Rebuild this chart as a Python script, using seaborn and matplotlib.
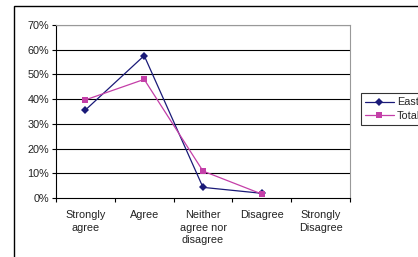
import numpy as np
import pandas as pd
import matplotlib
matplotlib.use("Agg")
import matplotlib.pyplot as plt
from matplotlib.patches import Rectangle
from matplotlib.lines import Line2D
from matplotlib.ticker import FuncFormatter, FixedLocator
import seaborn as sns

categories = ["Strongly\nagree", "Agree", "Neither\nagree nor\ndisagree", "Disagree", "Strongly\nDisagree"]
east = [35.6, 57.6, 4.3, 1.9, np.nan]
total = [39.7, 48.0, 10.9, 1.6, np.nan]
series_names = ["East", "Total"]
yticks = [0, 10, 20, 30, 40, 50, 60, 70]

sns.set_style("white")
plt.rcParams["font.family"] = ["Liberation Sans", "DejaVu Sans"]

W, H = 418, 257
fig = plt.figure(figsize=(W / 100, H / 100), dpi=100)
ax = fig.add_axes([56 / W, (H - 198) / H, 294 / W, 173 / H])

pos = list(range(len(categories)))
df = pd.DataFrame({
    "x": pos * 2,
    "value": east + total,
    "series": [series_names[0]] * len(pos) + [series_names[1]] * len(pos),
}).dropna()

palette = {"East": "#1a1a78", "Total": "#c43fa8"}
markers = {"East": "D", "Total": "s"}
sns.lineplot(data=df, x="x", y="value", hue="series", style="series",
             palette=palette, markers=markers, dashes=False, ax=ax,
             linewidth=0.9, markersize=4.5, markeredgewidth=0, legend=False)

ax.set_xlim(-0.5, len(categories) - 0.5)
ax.set_ylim(0, 70)
ax.set_xlabel("")
ax.set_ylabel("")
ax.set_yticks(yticks)
ax.yaxis.set_major_formatter(FuncFormatter(lambda v, p: f"{int(v)}%"))
ax.set_xticks(pos)
ax.set_xticklabels(categories, fontsize=7.8, color="#222222", linespacing=1.3)
ax.tick_params(axis="x", which="major", length=0, pad=9)
ax.xaxis.set_minor_locator(FixedLocator([p + 0.5 for p in pos[:-1]] + [-0.5, len(pos) - 0.5]))
ax.tick_params(axis="x", which="minor", length=3, width=0.8, color="black", direction="out", bottom=True)
ax.tick_params(axis="y", length=3, width=0.8, color="black", direction="out", left=True,
               labelsize=7.8, pad=2, labelcolor="#222222")

for y in yticks[1:]:
    ax.axhline(y, color="black", linewidth=0.8, zorder=0)

ax.spines["left"].set_color("black")
ax.spines["bottom"].set_color("black")
ax.spines["top"].set_color("#999999")
ax.spines["right"].set_color("#999999")
for s in ax.spines.values():
    s.set_linewidth(0.8)

# outer chart border (extends past the canvas on right and bottom)
fig.patches.append(Rectangle((14 / W, -0.2), 1.5, 1.2 - 6 / H, transform=fig.transFigure,
                             fill=False, edgecolor="black", linewidth=1.0))

handles = [Line2D([], [], color=palette[n], marker=markers[n], markersize=4.5,
                  markeredgewidth=0, linewidth=0.9) for n in series_names]
leg = fig.legend(handles, series_names, loc="upper left", bbox_to_anchor=(361 / W, 1 - 93 / H),
                 fontsize=7.8, frameon=True, fancybox=False, handlelength=2.6,
                 borderpad=0.4, labelspacing=0.35, handletextpad=0.3, borderaxespad=0)
leg.get_frame().set_edgecolor("black")
leg.get_frame().set_linewidth(0.8)

fig.savefig("out.png", dpi=100)
